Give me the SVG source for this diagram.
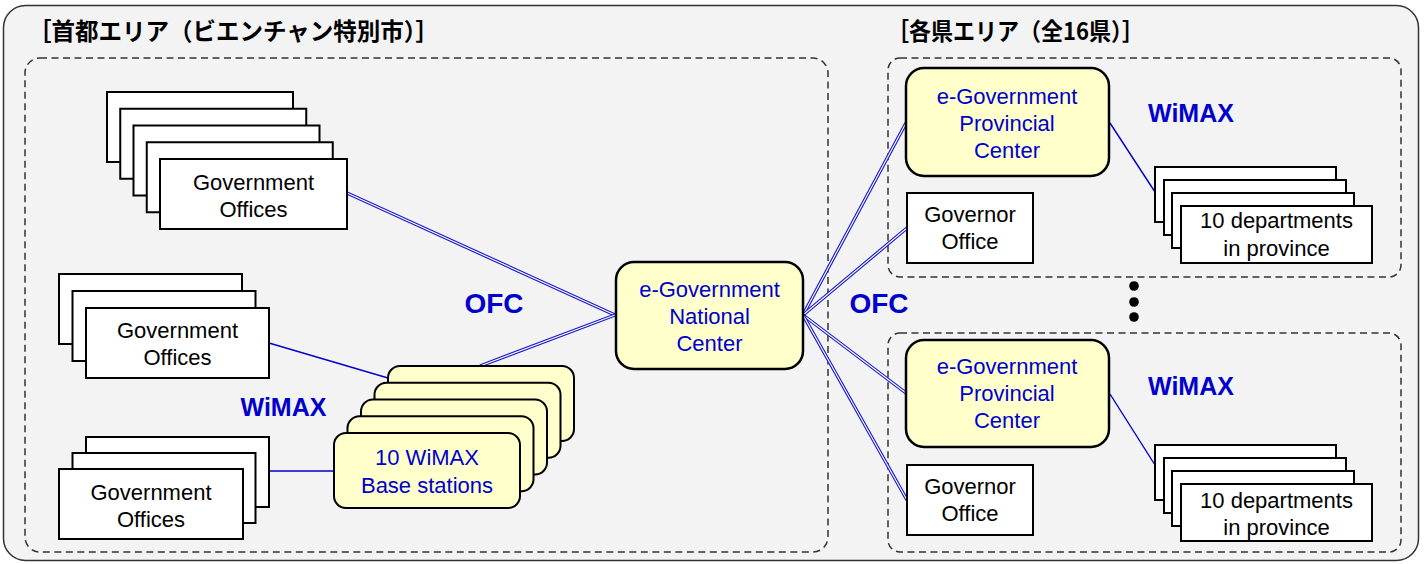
<svg xmlns="http://www.w3.org/2000/svg" xmlns:xlink="http://www.w3.org/1999/xlink" width="1424" height="564" viewBox="0 0 1424 564">
<style>
.frame{fill:#f3f3f3;stroke:#333;stroke-width:1.5}
.dash{fill:none;stroke:#333;stroke-width:1.5;stroke-dasharray:7 4.5}
.box{fill:#fff;stroke:#000;stroke-width:2}
.ybox{fill:#ffffcc;stroke:#000;stroke-width:2}
.t{font-family:"Liberation Sans",Arial,sans-serif;font-size:22px;fill:#000;text-anchor:middle}
.tb{font-family:"Liberation Sans",Arial,sans-serif;font-size:22px;fill:#0000cc;text-anchor:middle}
.lbl{font-family:"Liberation Sans",Arial,sans-serif;font-weight:bold;fill:#0000cc;text-anchor:middle}
.title{font-family:"Noto Sans CJK JP",sans-serif;font-weight:bold;font-size:24px;fill:#000}
.dbl-o{fill:none;stroke:#1a1acc;stroke-width:3.4}
.dbl-i{fill:none;stroke:#ffffff;stroke-width:1.1}
.single{fill:none;stroke:#0000cc;stroke-width:1.4}
</style>
<defs>
<path id="c1" d="M347,193 L615,315"/>
<path id="c2" d="M480,366 L615,315"/>
<path id="c3" d="M803,315 L906,123"/>
<path id="c4" d="M803,315 L907,228"/>
<path id="c5" d="M803,315 L906,393"/>
<path id="c6" d="M803,315 L907,500"/>
</defs>
<rect class="frame" x="3.5" y="5.5" width="1415" height="555" rx="22"/>
<text class="title" x="28" y="40" textLength="411" lengthAdjust="spacingAndGlyphs">［首都エリア（ビエンチャン特別市）］</text>
<text class="title" x="887" y="40" textLength="257" lengthAdjust="spacingAndGlyphs">［各県エリア（全16県）］</text>
<rect class="dash" x="25" y="58" width="803" height="494" rx="15"/>
<rect class="dash" x="888" y="58" width="513" height="219" rx="12"/>
<rect class="dash" x="888" y="333" width="513" height="219" rx="12"/>

<g id="connectors">
<use xlink:href="#c1" class="dbl-o"/><use xlink:href="#c1" class="dbl-i"/>
<use xlink:href="#c2" class="dbl-o"/><use xlink:href="#c2" class="dbl-i"/>
<use xlink:href="#c3" class="dbl-o"/><use xlink:href="#c3" class="dbl-i"/>
<use xlink:href="#c4" class="dbl-o"/><use xlink:href="#c4" class="dbl-i"/>
<use xlink:href="#c5" class="dbl-o"/><use xlink:href="#c5" class="dbl-i"/>
<use xlink:href="#c6" class="dbl-o"/><use xlink:href="#c6" class="dbl-i"/>
<path class="single" d="M269,343 L388,378"/>
<path class="single" d="M269,471 L334,471"/>
<path class="single" d="M1110,123 L1155,192"/>
<path class="single" d="M1110,394 L1155,465"/>
</g>

<g id="gov-top">
<rect class="box" x="107" y="92" width="186" height="70"/>
<rect class="box" x="120.25" y="108.75" width="186" height="70"/>
<rect class="box" x="133.5" y="125.5" width="186" height="70"/>
<rect class="box" x="146.75" y="142.25" width="186" height="70"/>
<rect class="box" x="160" y="159" width="187" height="70"/>
<text class="t" x="253.5" y="190">Government</text>
<text class="t" x="253.5" y="217">Offices</text>
</g>

<g id="gov-mid">
<rect class="box" x="59" y="274" width="183" height="70"/>
<rect class="box" x="72.5" y="291" width="183" height="70"/>
<rect class="box" x="86" y="308" width="183" height="70"/>
<text class="t" x="177.5" y="338">Government</text>
<text class="t" x="177.5" y="365">Offices</text>
</g>

<g id="gov-bot">
<rect class="box" x="86" y="437" width="183" height="70"/>
<rect class="box" x="72.5" y="453" width="183" height="70"/>
<rect class="box" x="59" y="469" width="184" height="70"/>
<text class="t" x="151" y="500">Government</text>
<text class="t" x="151" y="527">Offices</text>
</g>

<g id="base-stations">
<rect class="ybox" x="388" y="366" width="186" height="75" rx="12"/>
<rect class="ybox" x="374.5" y="382.75" width="186" height="75" rx="12"/>
<rect class="ybox" x="361" y="399.5" width="186" height="75" rx="12"/>
<rect class="ybox" x="347.5" y="416.25" width="186" height="75" rx="12"/>
<rect class="ybox" x="334" y="433" width="186" height="75" rx="12"/>
<text class="tb" x="427" y="465">10 WiMAX</text>
<text class="tb" x="427" y="493">Base stations</text>
</g>

<g id="national-center">
<rect class="ybox" x="616" y="262" width="187" height="107" rx="18" style="stroke-width:2.5"/>
<text class="tb" x="709.5" y="297">e-Government</text>
<text class="tb" x="709.5" y="324">National</text>
<text class="tb" x="709.5" y="351">Center</text>
</g>

<g id="labels">
<text class="lbl" x="494" y="313" style="font-size:28px">OFC</text>
<text class="lbl" x="879" y="313" style="font-size:28px">OFC</text>
<text class="lbl" x="283.5" y="416" style="font-size:25px">WiMAX</text>
<text class="lbl" x="1191" y="122" style="font-size:25px">WiMAX</text>
<text class="lbl" x="1191" y="395" style="font-size:25px">WiMAX</text>
</g>

<g id="prov-top">
<rect class="ybox" x="906" y="68" width="203" height="108" rx="18" style="stroke-width:2.5"/>
<text class="tb" x="1007" y="104">e-Government</text>
<text class="tb" x="1007" y="131">Provincial</text>
<text class="tb" x="1007" y="158">Center</text>
</g>

<g id="governor-top">
<rect class="box" x="907" y="193" width="126" height="70"/>
<text class="t" x="970" y="222">Governor</text>
<text class="t" x="970" y="249">Office</text>
</g>

<g id="dept-top">
<rect class="box" x="1155" y="167" width="181" height="55"/>
<rect class="box" x="1164" y="180" width="182" height="55"/>
<rect class="box" x="1172" y="193" width="182" height="55"/>
<rect class="box" x="1181" y="206" width="191" height="57"/>
<text class="t" x="1276.5" y="228">10 departments</text>
<text class="t" x="1276.5" y="256">in province</text>
</g>

<g id="dots">
<circle cx="1134" cy="286" r="4.8" fill="#000"/>
<circle cx="1134" cy="302" r="4.8" fill="#000"/>
<circle cx="1134" cy="317" r="4.8" fill="#000"/>
</g>

<g id="prov-bot">
<rect class="ybox" x="906" y="340" width="203" height="107" rx="18" style="stroke-width:2.5"/>
<text class="tb" x="1007" y="374">e-Government</text>
<text class="tb" x="1007" y="401">Provincial</text>
<text class="tb" x="1007" y="428">Center</text>
</g>

<g id="governor-bot">
<rect class="box" x="907" y="465" width="126" height="70"/>
<text class="t" x="970" y="494">Governor</text>
<text class="t" x="970" y="521">Office</text>
</g>

<g id="dept-bot">
<rect class="box" x="1155" y="445" width="181" height="55"/>
<rect class="box" x="1164" y="458" width="182" height="55"/>
<rect class="box" x="1172" y="471" width="182" height="55"/>
<rect class="box" x="1181" y="484" width="191" height="57"/>
<text class="t" x="1276.5" y="508">10 departments</text>
<text class="t" x="1276.5" y="535">in province</text>
</g>
</svg>
